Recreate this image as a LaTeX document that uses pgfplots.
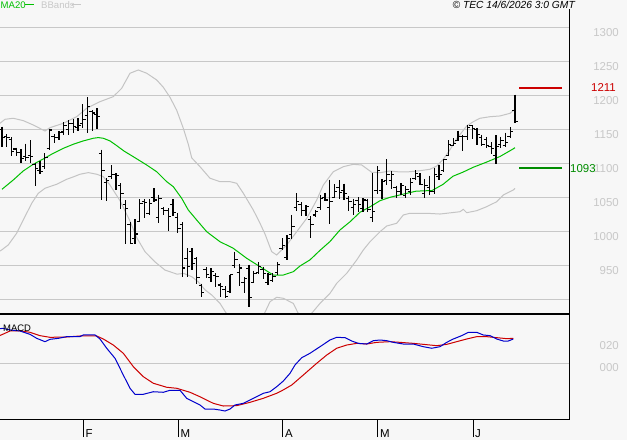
\documentclass[border=0pt]{standalone}
\usepackage{pgfplots}
\usepackage{pgfplotstable}
\pgfplotsset{compat=1.18}
\usepackage{fontspec}
\setmainfont{Liberation Sans}
\definecolor{bg}{HTML}{F7F7F7}
\definecolor{gridc}{HTML}{C8C8C8}
\definecolor{ma}{HTML}{00C000}
\definecolor{bb}{HTML}{C4C4C4}
\definecolor{lab}{HTML}{C8C8C8}
\definecolor{macdb}{HTML}{0000CC}
\definecolor{macdr}{HTML}{CC0000}
\definecolor{res}{HTML}{CC0000}
\definecolor{sup}{HTML}{008C00}

\pgfdeclareplotmark{otick}{\pgfpathmoveto{\pgfqpoint{-2.8bp}{0pt}}\pgfpathlineto{\pgfqpoint{0pt}{0pt}}\pgfusepathqstroke}
\pgfdeclareplotmark{ctick}{\pgfpathmoveto{\pgfqpoint{0pt}{0pt}}\pgfpathlineto{\pgfqpoint{2.8bp}{0pt}}\pgfusepathqstroke}

\pgfplotstableread{
k o h l c
0 1150 1154 1124 1138
1 1140 1143 1124 1138
2 1135 1138 1111 1118
3 1121 1123 1111 1116
4 1116 1121 1101 1107
5 1110 1129 1104 1108
6 1112 1134 1101 1110
7 1098 1100 1066 1093
8 1090 1103 1084 1088
9 1095 1115 1092 1109
10 1122 1151 1120 1149
11 1140 1143 1130 1138
12 1138 1147 1134 1145
13 1146 1160 1142 1156
14 1150 1163 1142 1158
15 1158 1165 1144 1154
16 1152 1166 1148 1155
17 1158 1187 1152 1165
18 1170 1197 1144 1183
19 1176 1178 1147 1174
20 1172 1181 1151 1169
21 1115 1120 1046 1090
22 1072 1078 1045 1075
23 1080 1097 1077 1084
24 1083 1085 1061 1082
25 1068 1071 1033 1055
26 1040 1046 981 1034
27 1010 1013 981 982
28 990 1018 982 996
29 1014 1047 1013 1041
30 1044 1047 1019 1042
31 1026 1047 1024 1041
32 1050 1063 1043 1046
33 1020 1054 1012 1048
34 1034 1036 1024 1030
35 1030 1034 1001 1022
36 1040 1047 1023 1027
37 1020 1027 998 1004
38 1010 1013 933 946
39 960 975 933 948
40 970 975 943 952
41 960 962 923 932
42 920 923 903 910
43 944 947 931 937
44 932 946 926 941
45 935 938 918 933
46 921 924 903 919
47 915 919 902 904
48 912 936 910 936
49 950 970 946 959
50 940 952 919 946
51 925 933 909 931
52 945 951 889 903
53 925 942 924 938
54 940 955 937 948
55 944 948 930 938
56 925 938 921 936
57 928 938 925 933
58 940 955 936 951
59 975 990 972 979
60 962 994 958 990
61 995 1024 988 1007
62 1035 1056 1030 1044
63 1040 1043 1023 1031
64 1030 1039 1023 1036
65 1018 1022 990 1010
66 1024 1031 1021 1029
67 1035 1054 1032 1048
68 1050 1057 1044 1046
69 1035 1076 1011 1044
70 1050 1069 1049 1058
71 1065 1075 1048 1057
72 1060 1070 1046 1056
73 1048 1052 1030 1044
74 1035 1048 1024 1040
75 1045 1050 1028 1040
76 1033 1049 1029 1046
77 1045 1048 1029 1032
78 1020 1085 1013 1029
79 1060 1096 1055 1090
80 1060 1077 1047 1073
81 1075 1106 1068 1083
82 1075 1089 1062 1084
83 1064 1067 1049 1059
84 1058 1071 1054 1068
85 1052 1066 1049 1061
86 1058 1078 1054 1072
87 1078 1090 1076 1085
88 1080 1085 1068 1069
89 1055 1077 1049 1068
90 1065 1082 1054 1058
91 1058 1093 1055 1083
92 1080 1098 1076 1084
93 1090 1106 1087 1105
94 1112 1134 1110 1127
95 1126 1137 1125 1129
96 1134 1148 1133 1139
97 1140 1142 1118 1139
98 1140 1157 1134 1153
99 1155 1156 1136 1151
100 1150 1152 1127 1142
101 1138 1142 1126 1127
102 1135 1139 1123 1126
103 1125 1131 1113 1122
104 1112 1141 1099 1125
105 1128 1139 1122 1134
106 1126 1145 1124 1130
107 1140 1153 1137 1147
108 1178 1201 1159 1162
}\ohlc

\pgfplotstableread{
x y
2 1061.8
13.3 1075.5
23.3 1088.8
33.3 1098.6
43.3 1106.4
53.3 1114.7
63.3 1122.0
73.3 1128.0
83.3 1132.9
93.3 1136.8
98.3 1137.8
103.3 1136.8
110 1132.9
116.7 1126
124 1118
133.3 1109.7
146.7 1097.5
156.7 1087.6
166.7 1073
173.3 1065.6
181.7 1048.5
188.3 1031.3
196.7 1016.6
206.7 999.4
220 984.7
233.3 975
246.7 960.3
260 948
273.3 935.7
283.3 935.7
293.3 940.6
300 949
310 958
320 972
330 985
340 1002
350 1014
360 1028
370 1036
380 1045
390 1050
400 1053.5
416 1059
432 1060
443 1069
453 1081
463 1087
473 1094
487 1102
500 1110
513 1121
515 1123
}\maline

\pgfplotstableread{
x y
0 1158.8
5 1164.7
13.3 1166.2
23.3 1162.7
33.3 1156.3
45 1147.5
50 1152.4
63.3 1158.8
76.7 1168.5
86.7 1180.9
100 1190.6
113.3 1198
121.7 1210.3
130 1232.4
138.3 1237.2
146.7 1232.4
156.7 1222.5
163.3 1211.8
170 1197
176.7 1178
183.3 1151.5
188.3 1128
191.7 1108
200 1095
210 1078
220 1073
230 1073
236.7 1070.6
243.3 1056
253.3 1031.3
260 1011.8
265 996
271.7 970
276.7 965.2
286.7 979.9
296.7 999.4
306.7 1019
316.7 1046
323.3 1068
333.3 1087.6
343.3 1095
353.3 1098.5
361.7 1097.5
371.7 1086.8
380 1086.2
390 1088.7
400 1087.2
410 1087.6
420 1089.1
430 1091.2
436.7 1096
443.3 1105.9
450 1120
456.7 1136
466.7 1154.9
473.3 1161.2
480 1166.2
490 1168.5
500 1169.6
510 1173.5
515 1179.4
}\bbup

\pgfplotstableread{
x y
0 971
1.7 972.6
8.3 980
16.7 997.2
23.3 1016.7
31.7 1041.2
38.3 1055.9
45 1063.3
56.7 1069.2
66.7 1076.5
73.3 1080
80 1083.9
88.3 1086.3
96.7 1083.9
103.3 1080.5
110 1068
120 1045
130 1015
137 990
145 970
155 955
165 943
177 937
184 938
192 933
198 926
205 914
212 906
220 894
226 880
235 868
250 862
262 872
266 884
270 896.5
276.7 903
283.3 901.5
293.3 894
298 880
305 872
312 880
320 894
330 908.8
336.7 923.5
346.7 938.2
356.7 957.8
363.3 972.5
370 984.7
380 999.4
386.7 1007.8
396.7 1011.8
403.3 1024
410 1026.5
426.7 1026.5
440 1025.4
460 1028.8
463.3 1032.3
466.7 1027.4
476.7 1030.3
486.7 1036.2
496.7 1043.5
503.3 1053.4
513.3 1060.7
515 1063
}\bblow

\pgfplotstableread{
x y
0 31
2.7 31.4
10 29.9
20 29
30 26
36.7 22.4
45 19.4
50 21.5
58.3 22.4
66.7 23.9
80 23.9
83.3 25.4
95 25.4
100 21.8
106.7 13.5
115 4.5
123.3 -10.5
130 -22.4
135 -27.8
143.3 -27.8
153.3 -25.5
163.3 -26
170 -24.2
180 -24.2
186.7 -31.4
193.3 -34.4
200 -37.4
205 -41
213.3 -41
220 -41.9
225 -42.8
230 -41
235 -37.4
243.3 -35.9
253.3 -31.4
263.3 -26.9
270 -25.5
276.7 -21
283.3 -15.9
290 -9
295 -1.5
301.7 5
310 9
320 14.9
330 20.9
336.7 23.3
345 23
351.7 20
358.3 17.9
366.7 17.3
373.3 20.3
380 20.9
386.7 20.3
393.3 18.8
403.3 17.3
413.3 17.3
423.3 14.9
431.7 13.5
440 14.9
446.7 18.8
453.3 21.8
461.7 24.8
468.3 27.8
476.7 27.8
483.3 25.4
490 24.8
496.7 21.8
503.3 20
508.3 20
513.3 21.8
}\macdline

\pgfplotstableread{
x y
0 25
2.7 26
10 29
20 29.2
30 27.8
40 24.8
50 23.3
66.7 23.6
80 24.5
96.7 24.5
103.3 21.8
113.3 16.4
123.3 9
133.3 -3
143.3 -12
153.3 -17.9
166.7 -21.5
176.7 -22.4
190 -26
200 -30
213.3 -35.9
223.3 -38.3
236.7 -38
250 -35
263.3 -31.4
276.7 -26.9
283 -24
291.7 -19.5
303.3 -10.5
316.7 0
326.7 7.4
336.7 13.5
346.7 16.4
356.7 17.9
366.7 17.3
376.7 18.8
390 19.4
400 18.8
413.3 17.9
423.3 17
436.7 15.8
446.7 17
456.7 19.4
466.7 21.8
476.7 23.9
486.7 23.9
496.7 23
506.7 22.1
513.3 22.4
}\signalline

\begin{document}
\begin{tikzpicture}
\fill[bg] (0,0) rectangle (627bp,-440bp);

% price panel
\begin{axis}[
  at={(0bp,-314bp)}, anchor=south west,
  scale only axis, width=569bp, height=314bp,
  xmin=0, xmax=569, ymin=878.4, ymax=1340.1,
  axis line style={draw=none},
  xtick=\empty,
  ytick={900,950,1000,1050,1100,1150,1200,1250,1300},
  yticklabels={},
  ytick style={draw=none},
  ymajorgrids, grid style={gridc, line width=1bp},
  clip=true,
]
\addplot[bb, line width=1bp] table[x=x,y=y] {\bbup};
\addplot[bb, line width=1bp] table[x=x,y=y] {\bblow};
\addplot[ma, line width=1bp] table[x=x,y=y] {\maline};
\addplot[draw=none, mark=none,
  error bars/.cd, y dir=minus, y explicit, error mark=none,
  error bar style={black, line width=1.4bp}]
  table[x expr=2+4.75*\thisrow{k}, y=h, y error expr=\thisrow{h}-\thisrow{l}] {\ohlc};
\addplot[only marks, mark=otick, mark options={black, line width=1.1bp}]
  table[x expr=2+4.75*\thisrow{k}, y=o] {\ohlc};
\addplot[only marks, mark=ctick, mark options={black, line width=1.1bp}]
  table[x expr=2+4.75*\thisrow{k}, y=c] {\ohlc};
\addplot[res, line width=2.3bp] coordinates {(519,1211) (562,1211)};
\addplot[sup, line width=2.3bp] coordinates {(519,1093) (562,1093)};
\end{axis}

% MACD panel
\begin{axis}[
  at={(0bp,-419bp)}, anchor=south west,
  scale only axis, width=569bp, height=105bp,
  xmin=0, xmax=569, ymin=-49.96, ymax=44.22,
  axis line style={draw=none},
  ytick={0}, yticklabels={}, ytick style={draw=none},
  ymajorgrids, grid style={gridc, line width=1bp},
  xtick={83.2,178.4,282.8,377.6,473.2}, xticklabels={},
  xtick pos=left, tick align=outside, major tick length=18bp,
  xtick style={black, line width=1bp},
  clip=true,
]
\addplot[macdr, line width=1bp] table[x=x,y=y] {\signalline};
\addplot[macdb, line width=1bp] table[x=x,y=y] {\macdline};
\end{axis}

% frames
\draw[black, line width=2.5bp] (0,-314bp) -- (569bp,-314bp);
\draw[black, line width=1bp] (0,-419bp) -- (569.5bp,-419bp);
\draw[black, line width=1bp] (569bp,-9bp) -- (569bp,-419.5bp);

% price labels
\begin{scope}[every node/.style={inner sep=0pt, font=\fontsize{11.5}{12}\selectfont}]
\node[anchor=east, text=lab] at (619bp,-32.5bp) {1300};
\node[anchor=east, text=lab] at (619bp,-66.5bp) {1250};
\node[anchor=east, text=lab] at (619bp,-100.5bp) {1200};
\node[anchor=east, text=lab] at (619bp,-134.5bp) {1150};
\node[anchor=east, text=lab] at (619bp,-168.5bp) {1100};
\node[anchor=east, text=lab] at (619bp,-202.5bp) {1050};
\node[anchor=east, text=lab] at (619bp,-236.5bp) {1000};
\node[anchor=east, text=lab] at (619bp,-270.5bp) {950};
\node[anchor=east, text=lab] at (619bp,-346bp) {020};
\node[anchor=east, text=lab] at (619bp,-368bp) {000};
\node[anchor=east, text=res] at (616bp,-87.5bp) {1211};
\node[anchor=west, text=sup] at (570bp,-168.5bp) {1093};
% months
\node[anchor=base west] at (85.5bp,-437bp) {F};
\node[anchor=base west] at (180.5bp,-437bp) {M};
\node[anchor=base west] at (284.8bp,-437bp) {A};
\node[anchor=base west] at (379.8bp,-437bp) {M};
\node[anchor=base west] at (475bp,-437bp) {J};
\end{scope}

% header
\begin{scope}[every node/.style={inner sep=0pt, font=\fontsize{9.6}{10}\selectfont}]
\node[anchor=base west, text=ma] at (0.5bp,-8bp) {MA20};
\draw[ma, line width=1bp] (25bp,-4.5bp) -- (34bp,-4.5bp);
\node[anchor=base west, text=lab] at (41bp,-8bp) {BBands};
\draw[lab, line width=1bp] (72bp,-4.5bp) -- (81bp,-4.5bp);
\node[anchor=base east, font=\fontsize{10.3}{11}\selectfont\itshape] at (575bp,-8.2bp) {© TEC 14/6/2026 3:0 GMT};
\node[anchor=base west, font=\fontsize{9.5}{10}\selectfont] at (3bp,-331bp) {MACD};
\end{scope}

\pgfresetboundingbox
\useasboundingbox (0,0) rectangle (627bp,-440bp);
\end{tikzpicture}
\end{document}
